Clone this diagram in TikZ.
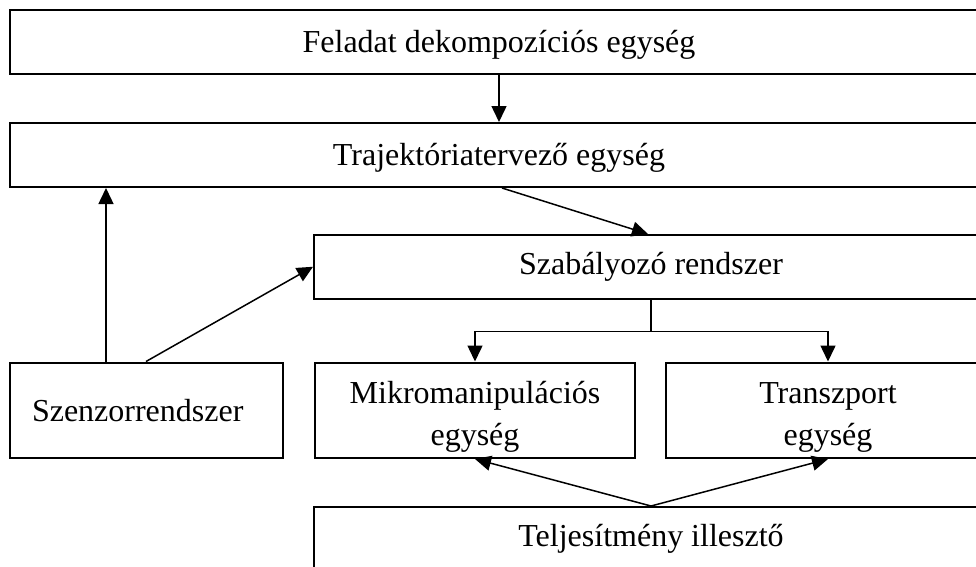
\documentclass[tikz,border=0pt]{standalone}
\usepackage{fontspec}
\setmainfont{Liberation Serif}
\usetikzlibrary{arrows.meta}
\begin{document}
\begin{tikzpicture}[x=1pt,y=-1pt,
  box/.style={draw,line width=2pt,rectangle,inner sep=0pt,font=\fontsize{32}{36}\selectfont},
  two/.style={align=center,font=\fontsize{32}{42}\selectfont,text height=77pt},
  arr/.style={line width=1.5pt,-{Triangle[length=16pt,width=15pt]}},
  ln/.style={line width=1.5pt}]
\useasboundingbox (0,0) rectangle (976,566);
\clip (0,0) rectangle (976,566);
\node[box,minimum width=978pt,minimum height=64pt,text height=28pt] (fel) at (499,42) {Feladat dekompozíciós egység};
\node[box,minimum width=978pt,minimum height=64pt,text height=28pt] (traj) at (499,155) {Trajektóriatervező egység};
\node[box,minimum width=674pt,minimum height=63.5pt] (szab) at (651,266.75) {Szabályozó rendszer};
\node[box,minimum width=273pt,minimum height=95.5pt,text width=229pt,align=left,inner xsep=22pt] (szen) at (146.5,410.25) {Szenzorrendszer};
\node[box,two,minimum width=320pt,minimum height=95.5pt] (mikro) at (475,410.25) {Mikromanipulációs\\egység};
\node[box,two,minimum width=324pt,minimum height=95.5pt] (trans) at (828,410.25) {Transzport\\egység};
\node[box,minimum width=674pt,minimum height=64pt] (telj) at (651,539) {Teljesítmény illesztő};
\draw[arr] (fel.south) -- (traj.north);
\draw[arr] ([xshift=97pt]szen.north west) -- ([xshift=97pt]szen.north west |- traj.south);
\draw[arr] ([xshift=137pt]szen.north west) -- (szab.west);
\draw[arr] ([xshift=3pt]traj.south) -- ([xshift=-3pt]szab.north);
\draw[ln] (szab.south) -- ++(0,32) coordinate (br);
\draw[arr] (br) -| (mikro.north);
\draw[arr] (br) -| (trans.north);
\draw[arr] (telj.north) -- (mikro.south);
\draw[arr] (telj.north) -- (trans.south);
\end{tikzpicture}
\end{document}
